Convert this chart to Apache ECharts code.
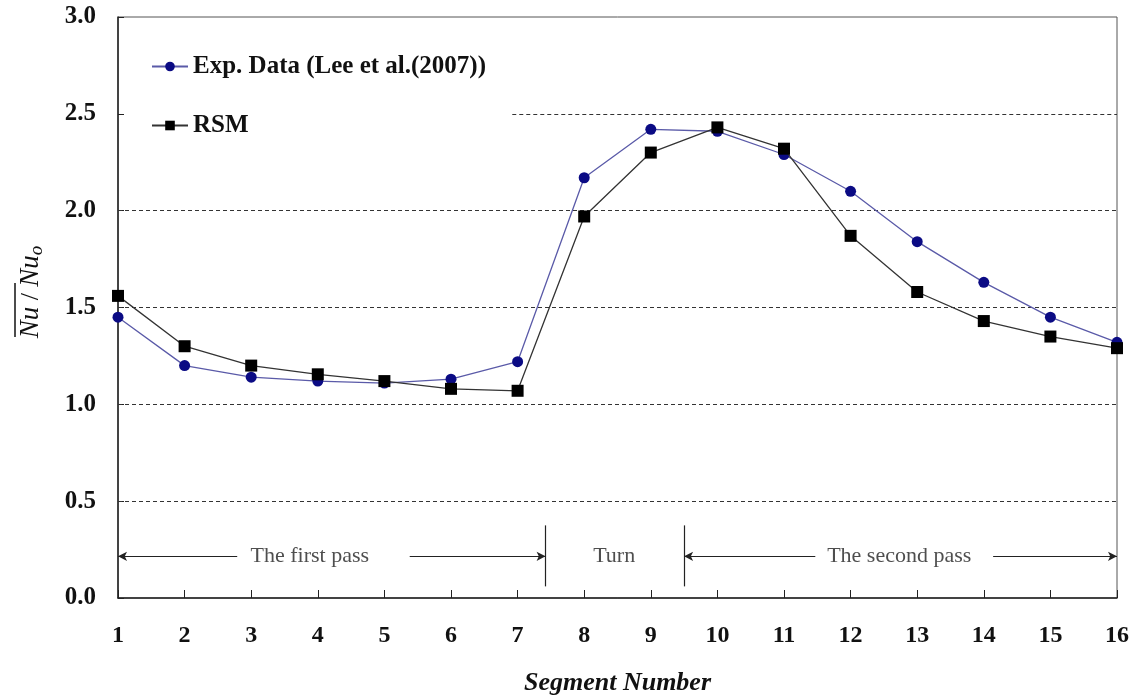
<!DOCTYPE html>
<html>
<head>
<meta charset="utf-8">
<script src="https://cdn.jsdelivr.net/npm/echarts@6/dist/echarts.min.js"></script>
<style>
  html, body { margin: 0; padding: 0; background: #fff; }
  #chart { width: 1139px; height: 696px; }
</style>
</head>
<body>
<div id="chart"></div>
<script>
// segment numbers and the two measured series
const segments = [1, 2, 3, 4, 5, 6, 7, 8, 9, 10, 11, 12, 13, 14, 15, 16]
const expData = [1.45, 1.20, 1.14, 1.12, 1.11, 1.13, 1.22, 2.17, 2.42, 2.41, 2.29, 2.10, 1.84, 1.63, 1.45, 1.32]
const rsmData = [1.56, 1.30, 1.20, 1.155, 1.12, 1.08, 1.07, 1.97, 2.30, 2.43, 2.32, 1.87, 1.58, 1.43, 1.35, 1.29]

// dashed guide lines: [level, start segment]
const guideLines = [[0.5, 1], [1.0, 1], [1.5, 1], [2.0, 1], [2.5, 6.92]]

// region dividers and pass annotations
const dividers = [7.42, 9.5]
const dividerSpan = [0.06, 0.375]
const arrowLevel = 0.215
const arrows = [[2.79, 1], [5.38, 7.42], [11.47, 9.5], [14.14, 16]] // [from, to(head)]
const passLabels = [
    { x: 3.88, text: 'The first pass' },
    { x: 8.45, text: 'Turn' },
    { x: 12.73, text: 'The second pass' }
]

const serif = "'Liberation Serif', 'Times New Roman', serif"
const chart = echarts.init(document.getElementById('chart'))

const markLines = []
guideLines.forEach(g => {
    markLines.push([
        { coord: [g[1], g[0]], lineStyle: { type: [4, 3], color: '#333', width: 1 } },
        { coord: [16, g[0]] }
    ])
})
dividers.forEach(d => {
    markLines.push([
        { coord: [d, dividerSpan[0]], lineStyle: { type: 'solid', color: '#222', width: 1.2 } },
        { coord: [d, dividerSpan[1]] }
    ])
})
arrows.forEach(a => {
    markLines.push([
        { coord: [a[0], arrowLevel], symbol: 'none', lineStyle: { type: 'solid', color: '#222', width: 1.2 } },
        { coord: [a[1], arrowLevel], symbol: 'arrow', symbolSize: [7, 9] }
    ])
})

const option = {
    backgroundColor: '#fff',
    animation: false,
    textStyle: { fontFamily: serif },
    grid: {
        left: 118,
        right: 22,
        top: 17,
        bottom: 98,
        outerBoundsMode: 'none',
        show: true,
        borderColor: '#555',
        borderWidth: 1
    },
    legend: {
        orient: 'vertical',
        left: 146,
        top: 49,
        itemGap: 34,
        itemWidth: 36,
        itemHeight: 12,
        textStyle: { fontFamily: serif, fontSize: 25, fontWeight: 'bold', color: '#111' },
        data: ['Exp. Data (Lee et al.(2007))', 'RSM']
    },
    xAxis: {
        type: 'value',
        min: 1,
        max: 16,
        interval: 1,
        name: 'Segment Number',
        nameLocation: 'middle',
        nameGap: 72,
        nameTextStyle: { fontFamily: serif, fontSize: 26, fontWeight: 'bold', fontStyle: 'italic', color: '#111' },
        axisLine: { lineStyle: { color: '#222', width: 1.5 } },
        axisTick: { inside: true, length: 8, lineStyle: { color: '#222' } },
        axisLabel: { margin: 26, fontFamily: serif, fontSize: 24, fontWeight: 'bold', color: '#111' },
        splitLine: { show: false }
    },
    yAxis: {
        type: 'value',
        min: 0,
        max: 3,
        interval: 0.5,
        axisLine: { show: true, lineStyle: { color: '#222', width: 1.5 } },
        axisTick: { show: true, inside: true, length: 6, lineStyle: { color: '#222' } },
        axisLabel: {
            margin: 22,
            fontFamily: serif,
            fontSize: 25,
            fontWeight: 'bold',
            color: '#111',
            formatter: v => v.toFixed(1)
        },
        splitLine: { show: false }
    },
    graphic: [{
        type: 'group',
        x: 31,
        y: 292,
        rotation: Math.PI / 2,
        children: [{
            type: 'text',
            x: 0,
            y: 0,
            style: {
                text: '{i|Nu} / {i|Nu}{s|o}',
                align: 'center',
                verticalAlign: 'middle',
                fill: '#111',
                font: "26px " + serif,
                rich: {
                    i: { fontFamily: serif, fontSize: 27, fontStyle: 'italic', fill: '#111' },
                    s: { fontFamily: serif, fontSize: 19, fontStyle: 'italic', fill: '#111', padding: [12, 0, 0, 0] }
                }
            }
        }, {
            type: 'line',
            shape: { x1: -45, y1: -16, x2: 9, y2: -16 },
            style: { stroke: '#111', lineWidth: 1.5 }
        }]
    }],
    series: [
        {
            name: 'Exp. Data (Lee et al.(2007))',
            type: 'line',
            data: segments.map((s, i) => [s, expData[i]]),
            symbol: 'circle',
            symbolSize: 11,
            itemStyle: { color: '#0b0b84' },
            lineStyle: { color: '#5a5aa8', width: 1.3 },
            z: 3
        },
        {
            name: 'RSM',
            type: 'line',
            data: segments.map((s, i) => [s, rsmData[i]]),
            symbol: 'rect',
            symbolSize: 12,
            itemStyle: { color: '#000' },
            lineStyle: { color: '#333', width: 1.3 },
            z: 4,
            markLine: {
                silent: true,
                symbol: 'none',
                label: { show: false },
                data: markLines,
                z: 1
            }
        },
        {
            name: 'labels',
            type: 'scatter',
            data: passLabels.map(p => ({ value: [p.x, arrowLevel], name: p.text })),
            symbolSize: 0,
            silent: true,
            label: {
                show: true,
                position: 'inside',
                formatter: p => p.name,
                fontFamily: serif,
                fontSize: 22,
                color: '#222'
            }
        }
    ]
}

chart.setOption(option)
</script>
</body>
</html>
